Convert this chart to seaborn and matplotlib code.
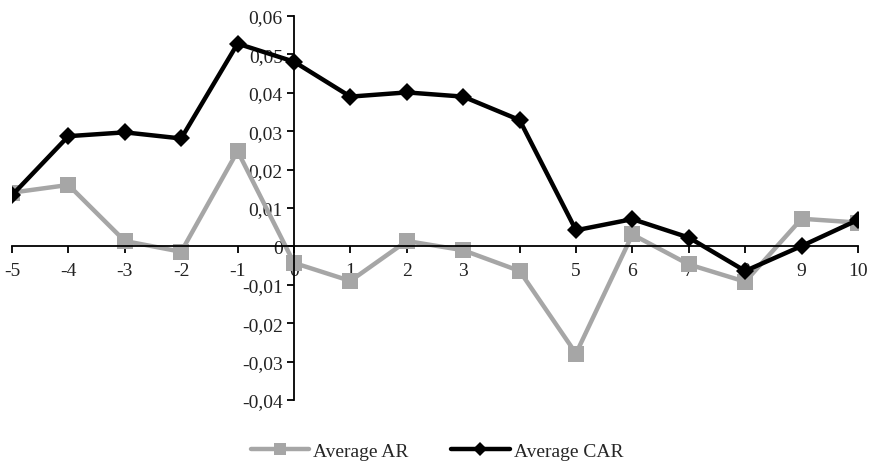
import numpy as np
import pandas as pd
import matplotlib
matplotlib.use("Agg")
import matplotlib.pyplot as plt
import seaborn as sns
from matplotlib.ticker import FuncFormatter, MultipleLocator

# event window days
days = [-5, -4, -3, -2, -1, 0, 1, 2, 3, 4, 5, 6, 7, 8, 9, 10]
# average abnormal return
avg_ar = [0.0140, 0.0160, 0.0014, -0.0014, 0.0248, -0.0043, -0.0090, 0.0014,
          -0.0010, -0.0064, -0.0279, 0.0031, -0.0047, -0.0092, 0.0072, 0.0062]
# average cumulative abnormal return
avg_car = [0.0133, 0.0287, 0.0297, 0.0281, 0.0528, 0.0481, 0.0390, 0.0401,
           0.0390, 0.0329, 0.0042, 0.0071, 0.0023, -0.0064, 0.0001, 0.0069]

sns.set_style("white")
plt.rcParams['font.family'] = ['Liberation Serif', 'DejaVu Serif']

fig = plt.figure(figsize=(8.74, 4.64), dpi=100)
ax = fig.add_axes([0.0137, 0.1358, 0.968, 0.8276])

sns.lineplot(x=days, y=avg_ar, ax=ax, color='#a6a6a6', linewidth=3.2,
             marker='s', markersize=11, markeredgewidth=0, label='Average AR')
sns.lineplot(x=days, y=avg_car, ax=ax, color='black', linewidth=3.2,
             marker='D', markersize=9, markeredgewidth=0, label='Average CAR')

ax.set_xlim(-5, 10)
ax.set_ylim(-0.04, 0.06)
ax.xaxis.set_major_locator(MultipleLocator(1))
ax.yaxis.set_major_locator(MultipleLocator(0.01))

def comma_fmt(v, pos):
    if abs(v) < 1e-9:
        return '0'
    return ('%.2f' % v).replace('.', ',')

ax.yaxis.set_major_formatter(FuncFormatter(comma_fmt))
ax.xaxis.set_major_formatter(FuncFormatter(lambda v, p: '%d' % round(v)))

for s in ['top', 'right']:
    ax.spines[s].set_visible(False)
ax.spines['left'].set_position(('data', 0))
ax.spines['bottom'].set_position(('data', 0))
ax.spines['left'].set_color('black')
ax.spines['bottom'].set_color('black')
ax.spines['left'].set_linewidth(1.3)
ax.spines['bottom'].set_linewidth(1.3)
ax.tick_params(axis='both', which='major', direction='out', length=5,
               width=1.3, color='black', labelsize=14, labelcolor='#222222',
               bottom=True, left=True)
ax.tick_params(axis='x', pad=6)
ax.tick_params(axis='y', pad=3)
ax.set_xlabel('')
ax.set_ylabel('')
ax.set_facecolor('none')

ax.legend(loc='lower center', bbox_to_anchor=(0.5, -0.01), bbox_transform=fig.transFigure,
          ncol=2, frameon=False, fontsize=14, handlelength=3.0, columnspacing=2.2,
          handletextpad=0.2, borderaxespad=0, markerscale=0.75)

fig.savefig('out.png', dpi=100)
